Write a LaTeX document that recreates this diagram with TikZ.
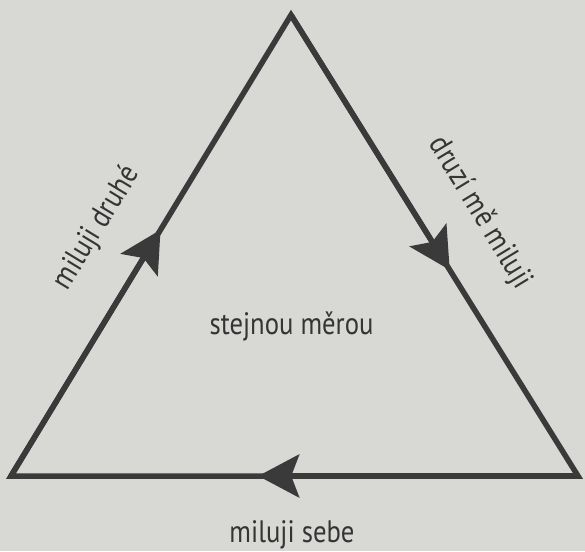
\documentclass[tikz,border=0pt]{standalone}
\usepackage{fontspec}
\setmainfont{PT Sans}[FakeStretch=0.86]
\usetikzlibrary{arrows.meta,calc}
\definecolor{paper}{RGB}{216,216,213}
\definecolor{ink}{RGB}{58,58,58}
\definecolor{txt}{RGB}{52,52,52}
\tikzset{
  edge/.style={draw=ink,line width=5.5pt,line join=miter},
  tip/.style={draw=ink,line width=5.5pt,-{Stealth[length=41pt,width=43pt,inset=8pt]}},
  lbl/.style={text=txt,font=\fontsize{31}{34}\selectfont,inner sep=0pt}
}
\begin{document}
\begin{tikzpicture}[x=1pt,y=1pt]
\fill[paper] (0,0) rectangle (585,551);
\useasboundingbox (0,0) rectangle (585,551);
\coordinate (A) at (291,536);
\coordinate (L) at (11,75);
\coordinate (R) at (578,75);
\draw[edge] (L) -- (A) -- (R) -- cycle;
\draw[tip] (L) -- ($(L)!0.534!(A)$);
\draw[tip] (A) -- ($(A)!0.553!(R)$);
\draw[tip] (R) -- ($(R)!0.564!(L)$);
\node[lbl,rotate=58.7] (druhe) at (97,323) {miluji druhé};
\node[lbl,rotate=-58.7] (druzi) at (480,338) {druzí mě miluji};
\node[lbl,anchor=base] (stejne) at (291.5,216) {stejnou měrou};
\node[lbl,anchor=base] (sebe) at (292,9) {miluji sebe};
\end{tikzpicture}
\end{document}
